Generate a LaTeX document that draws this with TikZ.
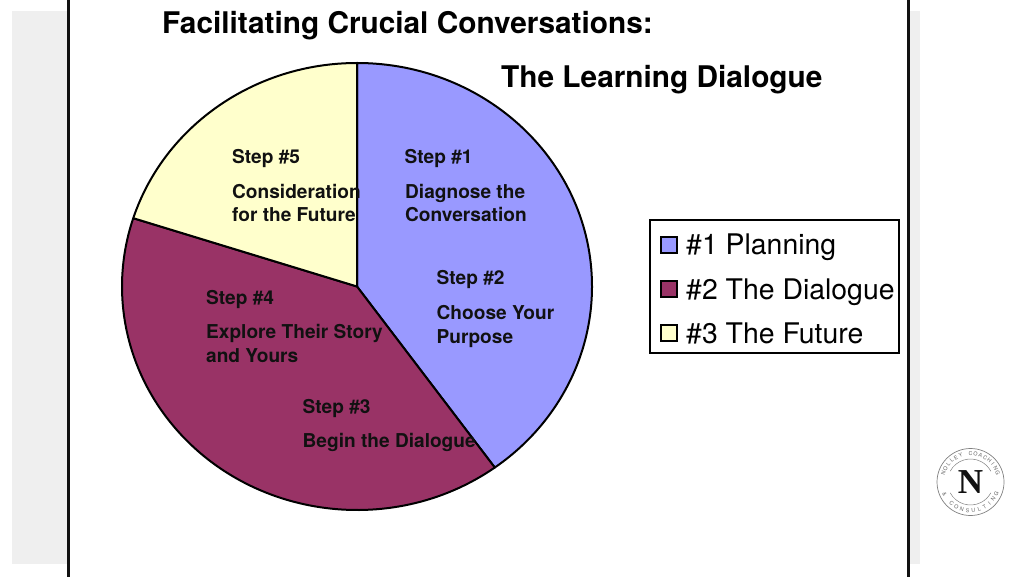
\documentclass[tikz,border=0pt]{standalone}
\usepackage{fontspec}
\setmainfont{TeX Gyre Heros}
\newfontfamily\logoserif{Liberation Serif}
\usetikzlibrary{calc}
\definecolor{pieblue}{HTML}{9999FF}
\definecolor{piered}{HTML}{993366}
\definecolor{pieyellow}{HTML}{FFFFCC}
\definecolor{band}{HTML}{EFEFEF}
\definecolor{ink}{HTML}{111111}
\tikzset{
  x=1pt,y=1pt,
  titletext/.style={inner sep=0pt,anchor=base west,font=\fontsize{29.8}{32}\selectfont\bfseries,text=black},
  steptext/.style={inner sep=0pt,anchor=base west,align=left,font=\fontsize{19.1}{23.5}\selectfont\bfseries,text=ink},
  legendtext/.style={inner sep=0pt,anchor=base west,font=\fontsize{28.4}{30}\selectfont,text=black},
  swatch/.style={draw=black,line width=1.8pt,minimum size=16pt,inner sep=0pt},
  slice/.style={draw=black,line width=2pt,line join=round},
  logoletter/.style={inner sep=0pt,font=\fontsize{5.4}{6}\selectfont,text=black!60},
  logoring/.style={draw=black!50,line width=.5pt},
}
\begin{document}
\begin{tikzpicture}
\useasboundingbox (0,0) rectangle (1024,576);
\fill[white] (0,0) rectangle (1024,576);
% background bands
\fill[band] (12,12) rectangle (920,565);
\fill[white,draw=ink,line width=3pt] (68.5,-5) rectangle (908.5,581);
% pie
\coordinate (c) at (357,289.5);
\draw[slice,fill=pieblue] (c) -- (357,513) arc[start angle=90,end angle=-54.1,x radius=235,y radius=223.5] -- cycle;
\draw[slice,fill=piered] (c) -- ++(-54.1:235 and 223.5) arc[start angle=-54.1,end angle=-197.8,x radius=235,y radius=223.5] -- cycle;
\draw[slice,fill=pieyellow] (c) -- ++(162.2:235 and 223.5) arc[start angle=162.2,end angle=90,x radius=235,y radius=223.5] -- cycle;
% title
\node[titletext] (title1) at (162,542.3) {Facilitating Crucial Conversations:};
\node[titletext] (title2) at (501,488.3) {The Learning Dialogue};
% step labels
\node[steptext] (s5a) at (232,412) {Step \#5};
\node[steptext] (s5b) at (232,377.5) {Consideration};
\node[steptext] (s5c) at (232,354.5) {for the Future};
\node[steptext] (s1a) at (404.5,412) {Step \#1};
\node[steptext] (s1b) at (405,377.5) {Diagnose the};
\node[steptext] (s1c) at (405,354.5) {Conversation};
\node[steptext] (s2a) at (436.5,291) {Step \#2};
\node[steptext] (s2b) at (436.5,257) {Choose Your};
\node[steptext] (s2c) at (436.5,233) {Purpose};
\node[steptext] (s4a) at (206,272) {Step \#4};
\node[steptext] (s4c) at (206,237.5) {Explore Their Story};
\node[steptext] (s4d) at (206,214) {and Yours};
\node[steptext] (s3a) at (302.5,163) {Step \#3};
\node[steptext] (s3b) at (302.5,129) {Begin the Dialogue};
% legend
\node[draw=black,line width=1.8pt,fill=white,minimum width=249pt,minimum height=133pt,inner sep=0pt] (legend) at (774.5,289.5) {};
\node[swatch,fill=pieblue] (k1) at (669,331) {};
\node[swatch,fill=piered] (k2) at (669,287) {};
\node[swatch,fill=pieyellow] (k3) at (669,243) {};
\node[legendtext] (l1) at (686,321) {\#1 Planning};
\node[legendtext] (l2) at (686,276.5) {\#2 The Dialogue};
\node[legendtext] (l3) at (686,232.5) {\#3 The Future};
% logo
\coordinate (lc) at (970.5,94);
\draw[logoring,line width=.7pt] (lc) circle[radius=33.5];
\draw[logoring] (lc) ++(152:23) arc[start angle=152,end angle=28,radius=23];
\draw[logoring] (lc) ++(208:23) arc[start angle=208,end angle=332,radius=23];
\foreach \ch [count=\i] in {N,O,L,L,E,Y,{},C,O,A,C,H,I,N,G}{
  \pgfmathsetmacro{\ang}{162-(\i-1)*10.3}
  \pgfmathsetmacro{\rot}{\ang-90}
  \node[logoletter,rotate=\rot] (top\i) at ($(lc)+(\ang:28.5)$) {\ch};
}
\foreach \ch [count=\i] in {\&,{},C,O,N,S,U,L,T,I,N,G}{
  \pgfmathsetmacro{\ang}{205+(\i-1)*11.8}
  \pgfmathsetmacro{\rot}{\ang+90}
  \node[logoletter,rotate=\rot] (bot\i) at ($(lc)+(\ang:28.5)$) {\ch};
}
\node[inner sep=0pt,font=\logoserif\fontsize{35}{35}\selectfont\bfseries,text=ink] (logoN) at (lc) {N};
\end{tikzpicture}
\end{document}
